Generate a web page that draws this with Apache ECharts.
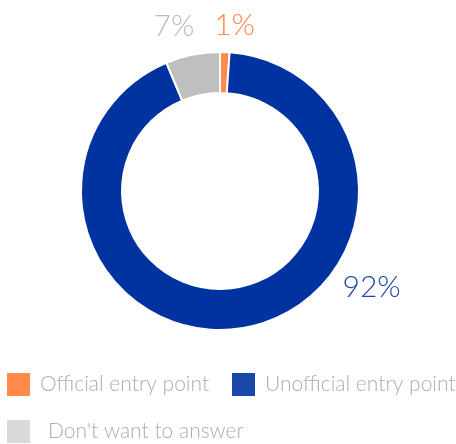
<!DOCTYPE html>
<html><head><meta charset="utf-8">
<script src="https://cdn.jsdelivr.net/npm/echarts@6/dist/echarts.min.js"></script>
<style>html,body{margin:0;padding:0;background:#fff}#c{width:456px;height:444px}</style>
</head><body><div id="c"></div>
<script>
const categories = ['Official entry point', 'Unofficial entry point', "Don't want to answer"];
const values = [1.1, 92.6, 6.3];
const shownPercents = ['1%', '92%', '7%'];
const sliceColors = ['#FF8A4C', '#0033A0', '#BFBFBF'];
const labelColors = ['#FF8A4C', '#1E44A8', '#BBBBBB'];
const legendColors = ['#FF8A4C', '#1A47AA', '#D9D9D9'];
const labelShift = [[-16, -15], [93, -53], [9, -17]];
const legendPos = [[7, 373, 5], [232, 373, 5], [7, 420, 13]];

const chart = echarts.init(document.getElementById('c'), null, {renderer: 'canvas'});
const font = 'Lato, "Open Sans", sans-serif';
chart.setOption({
  animation: false,
  legend: categories.map((n, i) => ({
    data: [{name: n, itemStyle: {color: legendColors[i], borderWidth: 0}}],
    left: legendPos[i][0], top: legendPos[i][1], padding: 0,
    itemWidth: 23, itemHeight: 23, icon: 'rect',
    itemStyle: {borderWidth: 0},
    textStyle: {fontFamily: font, fontSize: 21, fontWeight: 300, color: '#ADADAD', padding: [0, 0, 0, legendPos[i][2]]}
  })),
  series: [{
    type: 'pie',
    center: [220, 191],
    radius: [98, 139],
    startAngle: 90,
    clockwise: true,
    avoidLabelOverlap: false,
    itemStyle: {borderColor: '#fff', borderWidth: 2},
    label: {
      show: true, position: 'outside', fontFamily: font, fontSize: 30, fontWeight: 300,
      formatter: p => shownPercents[p.dataIndex]
    },
    labelLine: {show: false, length: 12, length2: 0},
    labelLayout: p => ({dx: labelShift[p.dataIndex][0], dy: labelShift[p.dataIndex][1]}),
    emphasis: {disabled: true},
    data: categories.map((n, i) => ({
      name: n, value: values[i],
      itemStyle: {color: sliceColors[i]},
      label: {color: labelColors[i]}
    }))
  }]
});
</script></body></html>
